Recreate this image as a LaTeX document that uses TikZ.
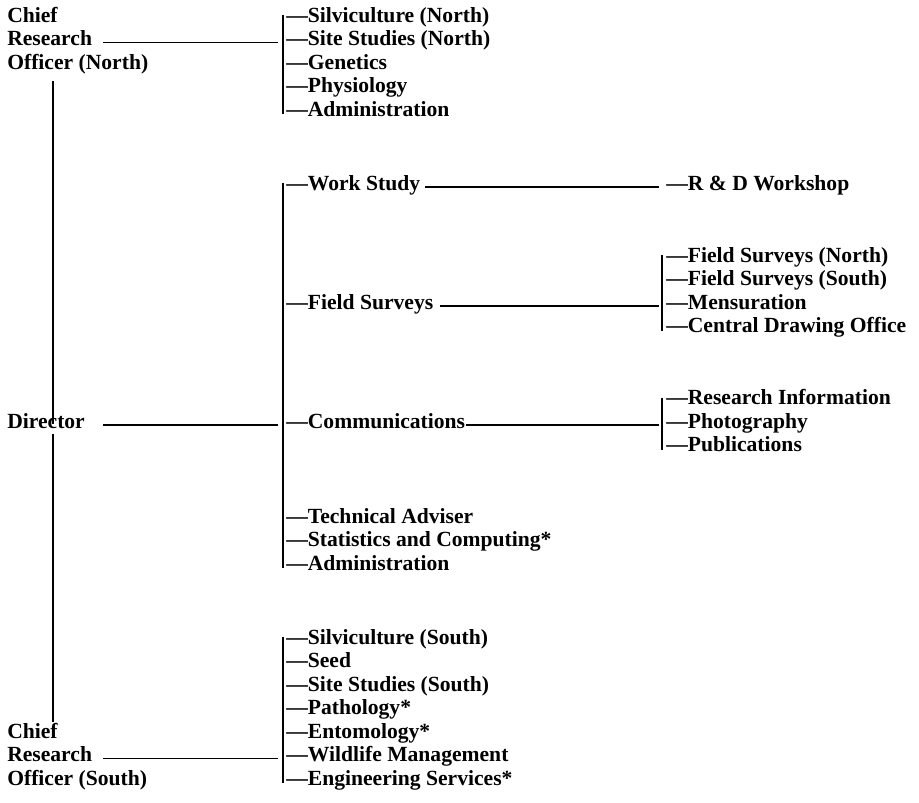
\documentclass[tikz,border=0pt]{standalone}
\usepackage{fontspec}
\setmainfont{Liberation Serif}
\begin{document}
\begin{tikzpicture}[x=0.75pt,y=-0.75pt,
  lab/.style={anchor=west,inner sep=0pt,font=\fontsize{16.2}{17.6}\selectfont\bfseries,text height=0.7em,text depth=0.2em},
  conn/.style={line width=1pt},
  brk/.style={line width=1pt,shorten <=-3pt,shorten >=-1pt}]
\useasboundingbox (0,0) rectangle (919,802);
\coordinate (vx) at (53,0);
% heads
\node[lab] (crn1) at (7,19) {Chief};
\node[lab] (crn2) at (7,42.5) {Research};
\node[lab] (crn3) at (7,66) {Officer (North)};
\node[lab] (dir) at (7,425) {Director};
\node[lab] (crs1) at (7,735) {Chief};
\node[lab] (crs2) at (7,758.5) {Research};
\node[lab] (crs3) at (7,782) {Officer (South)};
% north group
\node[lab] (t1) at (286,19) {—Silviculture (North)};
\node[lab] (t2) at (286,42.5) {—Site Studies (North)};
\node[lab] (t3) at (286,66) {—Genetics};
\node[lab] (t4) at (286,89.5) {—Physiology};
\node[lab] (t5) at (286,113) {—Administration};
% director group
\node[lab] (m1) at (286,187) {—Work Study};
\node[lab] (m2) at (286,306) {—Field Surveys};
\node[lab] (m3) at (286,425) {—Communications};
\node[lab] (m4) at (286,520) {—Technical Adviser};
\node[lab] (m5) at (286,543.5) {—Statistics and Computing*};
\node[lab] (m6) at (286,567) {—Administration};
% south group
\node[lab] (s1) at (286,641) {—Silviculture (South)};
\node[lab] (s2) at (286,664.5) {—Seed};
\node[lab] (s3) at (286,688) {—Site Studies (South)};
\node[lab] (s4) at (286,711.5) {—Pathology*};
\node[lab] (s5) at (286,735) {—Entomology*};
\node[lab] (s6) at (286,758.5) {—Wildlife Management};
\node[lab] (s7) at (286,782) {—Engineering Services*};
% right groups
\node[lab] (rd) at (666,187) {—R \& D Workshop};
\node[lab] (f1) at (666,259) {—Field Surveys (North)};
\node[lab] (f2) at (666,282.5) {—Field Surveys (South)};
\node[lab] (f3) at (666,306) {—Mensuration};
\node[lab] (f4) at (666,329.5) {—Central Drawing Office};
\node[lab] (c1) at (666,401.5) {—Research Information};
\node[lab] (c2) at (666,425) {—Photography};
\node[lab] (c3) at (666,448.5) {—Publications};
% spine
\draw[conn,shorten <=6.75pt,shorten >=-4pt] (crn3.south -| vx) -- (dir.north -| vx);
\draw[conn,shorten <=2pt,shorten >=5pt] (dir.south -| vx) -- (crs1.north -| vx);
% head connectors
\draw[conn] ([xshift=72pt]crn2.west) -- ([xshift=-6pt]t2.west);
\draw[conn] ([xshift=72pt]dir.west) -- ([xshift=-6pt]m3.west);
\draw[conn] ([xshift=72pt]crs2.west) -- ([xshift=-6pt]s6.west);
% brackets
\draw[brk] ([xshift=-2.25pt]t1.west) -- ([xshift=-2.25pt]t5.west);
\draw[brk] ([xshift=-2.25pt]m1.west) -- ([xshift=-2.25pt]m6.west);
\draw[brk] ([xshift=-2.25pt]s1.west) -- ([xshift=-2.25pt]s7.west);
\draw[brk] ([xshift=-3pt]f1.west) -- ([xshift=-3pt]f4.west);
\draw[brk] ([xshift=-3pt]c1.west) -- ([xshift=-3pt]c3.west);
% second level connectors
\draw[conn] ([xshift=3.75pt]m1.east) -- ([xshift=-5.25pt]rd.west);
\draw[conn] ([xshift=5pt]m2.east) -- ([xshift=-5.25pt]f3.west);
\draw[conn] ([xshift=0.5pt]m3.east) -- ([xshift=-5.25pt]c2.west);
\end{tikzpicture}
\end{document}
